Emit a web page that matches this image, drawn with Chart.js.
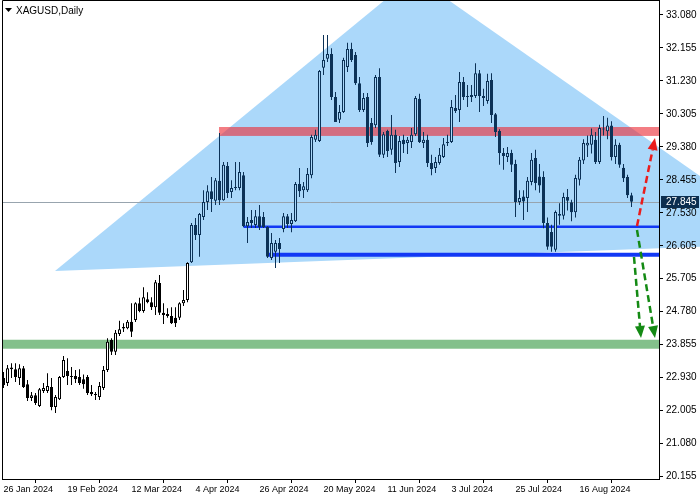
<!DOCTYPE html>
<html>
<head>
<meta charset="utf-8">
<script src="https://cdn.jsdelivr.net/npm/chart.js@4.4.1/dist/chart.umd.min.js"></script>
<style>
  html, body { margin: 0; padding: 0; background: #fff; }
  canvas { display: block; }
</style>
</head>
<body>
<canvas id="chart" width="700" height="500"></canvas>
<script>
// XAGUSD daily candles, 26 Jan 2024 .. 4 Sep 2024 (bar index 0..157)
const xTickIdx = [0, 16, 32, 48, 64, 80, 96, 112, 128, 144];
const xLabels = ['26 Jan 2024', '19 Feb 2024', '12 Mar 2024', '4 Apr 2024', '26 Apr 2024',
  '20 May 2024', '11 Jun 2024', '3 Jul 2024', '25 Jul 2024', '16 Aug 2024'];
const yTicks = [33.080, 32.155, 31.230, 30.305, 29.380, 28.455, 27.530, 26.605,
  25.705, 24.780, 23.855, 22.930, 22.005, 21.080, 20.155];

const opens = [
  22.90, 22.76, 23.15, 23.15, 22.90, 23.18, 22.73, 22.34, 22.42, 22.12,
  22.54, 22.54, 22.65, 22.09, 22.31, 22.93, 23.10, 22.93, 22.96, 22.93,
  22.87, 22.93, 22.51, 22.45, 22.37, 22.62, 23.13, 23.97, 23.64, 24.14,
  24.29, 24.30, 24.48, 24.53, 25.00, 24.78, 25.11, 25.03, 24.89, 25.57,
  24.73, 24.70, 24.64, 24.59, 24.59, 25.00, 25.09, 26.15, 27.19, 26.91,
  27.42, 27.84, 28.14, 27.87, 28.43, 27.89, 28.85, 28.12, 28.26, 28.23,
  28.59, 27.16, 27.33, 27.19, 27.44, 27.42, 27.14, 26.27, 26.44, 26.69,
  27.08, 27.44, 27.22, 27.30, 28.34, 28.17, 28.17, 28.59, 29.58, 29.55,
  31.60, 31.85, 31.99, 30.78, 30.14, 30.36, 31.62, 32.13, 31.96, 31.17,
  30.42, 30.78, 30.05, 29.99, 31.34, 29.16, 29.83, 29.30, 29.72, 28.96,
  29.58, 29.49, 29.52, 29.74, 30.73, 29.49, 29.58, 28.93, 28.79, 28.93,
  29.10, 29.49, 29.52, 30.47, 30.42, 31.20, 30.81, 30.78, 30.81, 31.45,
  30.75, 30.67, 31.26, 30.30, 29.83, 29.21, 29.10, 29.21, 28.90, 27.84,
  27.99, 27.95, 28.40, 29.07, 28.55, 28.54, 27.25, 27.00, 26.50, 27.50,
  27.45, 27.98, 27.83, 27.55, 28.46, 29.00, 29.42, 29.44, 29.58, 28.96,
  29.90, 29.82, 29.98, 29.10, 29.44, 28.80, 28.54, 28.03
];
const highs = [
  23.07, 23.27, 23.32, 23.32, 23.29, 23.24, 22.85, 22.51, 22.48, 22.62,
  22.76, 23.04, 22.90, 22.43, 22.96, 23.52, 23.46, 23.21, 23.13, 23.15,
  23.00, 22.99, 22.71, 22.51, 22.79, 23.24, 24.02, 24.02, 24.25, 24.51,
  24.44, 24.53, 25.00, 25.03, 25.15, 25.45, 25.31, 25.17, 25.65, 25.79,
  25.00, 24.86, 24.89, 24.89, 25.03, 25.37, 26.15, 27.25, 27.39, 27.53,
  28.17, 28.31, 28.54, 28.51, 29.77, 28.96, 28.96, 28.45, 28.96, 28.96,
  28.68, 27.42, 27.61, 27.61, 27.75, 27.56, 27.16, 26.97, 26.77, 26.83,
  27.53, 27.50, 27.53, 28.40, 28.79, 28.40, 28.79, 29.72, 29.86, 31.54,
  32.52, 32.52, 32.15, 30.92, 30.56, 31.88, 32.30, 32.30, 32.04, 31.34,
  30.89, 30.89, 30.19, 31.40, 31.59, 29.80, 29.86, 30.28, 29.86, 29.69,
  29.72, 29.66, 29.91, 30.81, 30.87, 29.80, 29.72, 29.16, 29.10, 29.35,
  29.63, 29.72, 30.70, 30.84, 31.48, 31.34, 31.12, 31.12, 31.73, 31.54,
  31.01, 31.43, 31.45, 30.33, 29.88, 29.35, 29.38, 29.30, 29.02, 28.17,
  28.17, 28.54, 29.21, 29.30, 28.90, 28.70, 27.40, 27.20, 27.60, 27.80,
  28.10, 28.20, 27.90, 28.60, 29.10, 29.60, 29.70, 29.90, 29.80, 30.00,
  30.25, 30.20, 30.10, 29.60, 29.50, 28.90, 28.60, 28.10
];
const lows = [
  22.62, 22.68, 22.90, 22.79, 22.71, 22.62, 22.26, 22.26, 22.15, 22.09,
  22.48, 22.48, 22.00, 21.92, 22.29, 22.90, 22.71, 22.71, 22.76, 22.71,
  22.60, 22.43, 22.40, 22.29, 22.29, 22.57, 23.07, 23.55, 23.55, 24.08,
  24.19, 24.27, 24.05, 24.47, 24.75, 24.73, 25.00, 24.81, 24.67, 24.67,
  24.42, 24.59, 24.42, 24.33, 24.53, 24.92, 25.03, 26.13, 26.77, 26.30,
  27.33, 27.61, 27.56, 27.75, 27.75, 27.87, 27.95, 27.95, 28.17, 28.17,
  27.14, 26.69, 27.11, 27.11, 27.05, 27.11, 26.27, 26.21, 25.99, 26.13,
  26.99, 27.11, 26.99, 27.28, 27.98, 27.95, 28.12, 28.50, 29.52, 29.52,
  31.40, 31.76, 30.70, 30.08, 30.05, 30.33, 31.48, 31.76, 31.12, 30.36,
  30.36, 29.38, 29.44, 29.91, 29.10, 29.07, 29.10, 29.16, 28.65, 28.82,
  29.21, 29.18, 29.35, 29.69, 29.49, 29.35, 28.82, 28.59, 28.65, 28.88,
  29.07, 29.41, 29.49, 30.33, 30.08, 30.70, 30.50, 30.64, 30.75, 30.36,
  30.53, 30.59, 30.05, 29.66, 28.88, 28.74, 28.96, 28.68, 27.42, 27.75,
  27.33, 27.56, 28.31, 28.17, 28.10, 27.10, 26.50, 26.44, 26.44, 27.20,
  27.35, 27.60, 27.30, 27.40, 28.30, 28.90, 29.10, 29.20, 28.90, 28.90,
  29.70, 29.60, 29.00, 28.90, 28.80, 28.40, 27.95, 27.70
];
const closes = [
  22.71, 23.18, 23.20, 22.93, 23.18, 22.65, 22.34, 22.42, 22.20, 22.59,
  22.62, 22.68, 22.09, 22.37, 22.93, 23.41, 22.96, 22.96, 22.87, 22.76,
  22.73, 22.48, 22.45, 22.43, 22.68, 23.13, 23.92, 23.64, 24.17, 24.27,
  24.33, 24.48, 24.20, 25.00, 24.78, 25.17, 25.03, 24.89, 25.59, 24.73,
  24.67, 24.64, 24.44, 24.44, 25.00, 25.09, 26.13, 27.19, 26.91, 27.50,
  27.84, 28.14, 27.92, 28.45, 27.89, 28.88, 28.09, 28.23, 28.23, 28.68,
  27.16, 27.28, 27.25, 27.44, 27.14, 27.14, 26.30, 26.69, 26.69, 26.52,
  27.44, 27.22, 27.33, 28.34, 28.14, 28.28, 28.62, 29.66, 29.72, 31.51,
  31.82, 31.99, 30.78, 30.08, 30.36, 31.82, 32.13, 31.82, 31.17, 30.42,
  30.75, 29.49, 29.52, 31.34, 29.16, 29.74, 29.27, 29.72, 28.93, 29.55,
  29.46, 29.58, 29.72, 30.75, 29.52, 29.58, 28.93, 28.76, 28.96, 29.16,
  29.46, 29.52, 30.50, 30.39, 31.20, 30.78, 30.78, 30.84, 31.45, 30.81,
  30.81, 31.23, 30.28, 29.80, 29.21, 29.13, 29.21, 28.88, 27.84, 27.95,
  27.85, 28.43, 29.02, 28.37, 28.30, 27.25, 26.58, 26.58, 27.56, 27.45,
  27.98, 27.87, 27.55, 28.51, 29.02, 29.49, 29.50, 29.72, 28.96, 29.91,
  29.87, 29.98, 29.10, 29.44, 28.88, 28.50, 28.03, 27.845
];

// drawn objects, in bar index / price units
const triX = [12.875, 102.625, 198.125];
const triP = [25.903, 34.173, 26.688];
const redBandFrom = 54;
const redBand = [29.69, 29.94];
const greenBand = [23.724, 23.976];
const supportFrom = [60, 66];
const supportPrice = [27.142, 26.357];
const lastPrice = 27.845;
const redArrow = [[158.375, 27.165], [162.875, 29.632]];
const greenArrows = [
  [[157.625, 26.296], [159.375, 24.025]],
  [[158.375, 27.053], [162.875, 24.025]]
];

const FONT = '"Liberation Sans", Arial, sans-serif';
const TRI_BLUE = '#abd8fa';
const NAVY = '#0c3257';

// point in triangle test (sign test works in any affine coords)
function inTri(px, py) {
  const s = (ax, ay, bx, by) => (bx - ax) * (py - ay) - (by - ay) * (px - ax);
  const d1 = s(triX[0], triP[0], triX[1], triP[1]);
  const d2 = s(triX[1], triP[1], triX[2], triP[2]);
  const d3 = s(triX[2], triP[2], triX[0], triP[0]);
  const neg = d1 < 0 || d2 < 0 || d3 < 0;
  const pos = d1 > 0 || d2 > 0 || d3 > 0;
  return !(neg && pos);
}

const inside = opens.map((o, i) => inTri(i, (o + closes[i]) / 2));

function drawArrow(ctx, x0, y0, x1, y1, color) {
  const a = Math.atan2(y1 - y0, x1 - x0);
  const head = 12, w = 5;
  const bx = x1 - head * Math.cos(a), by = y1 - head * Math.sin(a);
  ctx.strokeStyle = color;
  ctx.lineWidth = 2.5;
  ctx.setLineDash([7, 4]);
  ctx.beginPath();
  ctx.moveTo(x0, y0);
  ctx.lineTo(bx, by);
  ctx.stroke();
  ctx.setLineDash([]);
  ctx.fillStyle = color;
  ctx.beginPath();
  ctx.moveTo(x1, y1);
  ctx.lineTo(bx + w * Math.sin(a), by - w * Math.cos(a));
  ctx.lineTo(bx - w * Math.sin(a), by + w * Math.cos(a));
  ctx.closePath();
  ctx.fill();
}

const objects = {
  id: 'objects',
  beforeDraw(chart) {
    const { ctx, scales: { x, y } } = chart;
    ctx.save();
    ctx.fillStyle = '#fff';
    ctx.fillRect(0, 0, chart.width, chart.height);
    // big triangle, runs past the plot into the price scale
    ctx.fillStyle = TRI_BLUE;
    ctx.beginPath();
    triX.forEach((v, k) => {
      const px = x.getPixelForValue(v), py = y.getPixelForValue(triP[k]);
      if (k === 0) ctx.moveTo(px, py); else ctx.lineTo(px, py);
    });
    ctx.closePath();
    ctx.fill();
    ctx.restore();
  },
  beforeDatasetsDraw(chart) {
    const { ctx, chartArea: area, scales: { x, y } } = chart;
    ctx.save();
    ctx.beginPath();
    ctx.rect(area.left, area.top, area.right - area.left, area.bottom - area.top);
    ctx.clip();

    // green zone
    let y0 = y.getPixelForValue(greenBand[1]), y1 = y.getPixelForValue(greenBand[0]);
    ctx.fillStyle = '#83c08b';
    ctx.fillRect(area.left, y0, area.right - area.left, y1 - y0);

    // red zone
    y0 = y.getPixelForValue(redBand[1]);
    y1 = y.getPixelForValue(redBand[0]);
    const rx = x.getPixelForValue(redBandFrom) - 0.5;
    ctx.fillStyle = 'rgba(235, 45, 55, 0.62)';
    ctx.fillRect(rx, y0, area.right - rx, y1 - y0);

    // last price line
    const py = Math.round(y.getPixelForValue(lastPrice)) + 0.5;
    ctx.strokeStyle = '#98a4ae';
    ctx.lineWidth = 1;
    ctx.beginPath();
    ctx.moveTo(area.left, py);
    ctx.lineTo(area.right, py);
    ctx.stroke();

    // support lines
    const widths = [2.5, 4];
    supportFrom.forEach((f, k) => {
      const sx = x.getPixelForValue(f);
      const sy = y.getPixelForValue(supportPrice[k]);
      ctx.strokeStyle = '#1238f5';
      ctx.lineWidth = widths[k];
      ctx.beginPath();
      ctx.moveTo(sx, sy);
      ctx.lineTo(area.right, sy);
      ctx.stroke();
    });
    ctx.restore();
  },
  afterDatasetsDraw(chart) {
    const { ctx, scales: { x, y } } = chart;
    const pt = p => [x.getPixelForValue(p[0]), y.getPixelForValue(p[1])];
    ctx.save();
    greenArrows.forEach(a => {
      const [x0, y0] = pt(a[0]), [x1, y1] = pt(a[1]);
      drawArrow(ctx, x0, y0, x1, y1, '#148a14');
    });
    const [rx0, ry0] = pt(redArrow[0]), [rx1, ry1] = pt(redArrow[1]);
    drawArrow(ctx, rx0, ry0, rx1, ry1, '#ea1c1c');
    ctx.restore();
  },
  afterDraw(chart) {
    const { ctx, chartArea: area, scales: { y } } = chart;
    ctx.save();
    // frame top and left
    ctx.strokeStyle = '#000';
    ctx.lineWidth = 1;
    ctx.beginPath();
    ctx.moveTo(2.5, area.bottom);
    ctx.lineTo(2.5, 0.5);
    ctx.lineTo(area.right + 0.5, 0.5);
    ctx.stroke();

    // last price box
    const py = y.getPixelForValue(lastPrice);
    ctx.fillStyle = '#0b2d4f';
    ctx.fillRect(area.right + 2, Math.round(py) - 6, 38, 12);
    ctx.fillStyle = '#fff';
    ctx.font = '10px ' + FONT;
    ctx.textBaseline = 'middle';
    ctx.textAlign = 'left';
    ctx.fillText(lastPrice.toFixed(3), area.right + 7, Math.round(py) + 0.5);

    // symbol title
    ctx.fillStyle = '#000';
    ctx.beginPath();
    ctx.moveTo(5, 8);
    ctx.lineTo(12, 8);
    ctx.lineTo(8.5, 12);
    ctx.closePath();
    ctx.fill();
    ctx.font = '10px ' + FONT;
    ctx.fillText('XAGUSD,Daily', 16, 11);
    ctx.restore();
  }
};

new Chart(document.getElementById('chart'), {
  type: 'bar',
  data: {
    datasets: [
      {
        label: 'wicks',
        data: lows.map((l, i) => ({ x: i, y: [l, highs[i]] })),
        grouped: false,
        barThickness: 1,
        borderWidth: 0,
        inflateAmount: 0,
        backgroundColor: c => inside[c.dataIndex] ? NAVY : '#000',
        order: 2
      },
      {
        label: 'bodies',
        data: opens.map((o, i) => ({ x: i, y: [o, closes[i]] })),
        grouped: false,
        barThickness: 3,
        minBarLength: 1,
        borderWidth: 1,
        borderSkipped: false,
        inflateAmount: 0,
        borderColor: c => inside[c.dataIndex] ? NAVY : '#000',
        backgroundColor: c => {
          const i = c.dataIndex;
          const up = closes[i] >= opens[i];
          if (inside[i]) return up ? TRI_BLUE : NAVY;
          return up ? '#fff' : '#000';
        },
        order: 1
      }
    ]
  },
  options: {
    responsive: false,
    animation: false,
    layout: { padding: { left: 2, top: 0, right: 0, bottom: 0 } },
    plugins: {
      legend: { display: false },
      tooltip: { enabled: false }
    },
    scales: {
      x: {
        type: 'linear',
        min: -0.375,
        max: 163.875,
        offset: false,
        grid: { drawOnChartArea: false, tickLength: 4, color: '#000' },
        border: { color: '#000' },
        ticks: {
          autoSkip: false,
          maxRotation: 0,
          align: 'start',
          padding: 1,
          color: '#000',
          font: { family: FONT, size: 9 },
          callback: v => xLabels[xTickIdx.indexOf(v)] || ''
        },
        afterBuildTicks: s => { s.ticks = xTickIdx.map(v => ({ value: v })); },
        afterFit: s => {
          s.height = 21;
          s.paddingLeft = 0;
          s.paddingRight = 0;
        }
      },
      y: {
        position: 'right',
        min: 20.072,
        max: 33.5005,
        grid: { drawOnChartArea: false, tickLength: 4, color: '#000' },
        border: { color: '#000' },
        ticks: {
          padding: 3,
          color: '#000',
          font: { family: FONT, size: 10 },
          callback: v => v.toFixed(3)
        },
        afterBuildTicks: s => { s.ticks = yTicks.map(v => ({ value: v })); },
        afterFit: s => {
          s.width = 41;
          s.paddingTop = 0;
          s.paddingBottom = 0;
        }
      }
    }
  },
  plugins: [objects]
});
</script>
</body>
</html>
